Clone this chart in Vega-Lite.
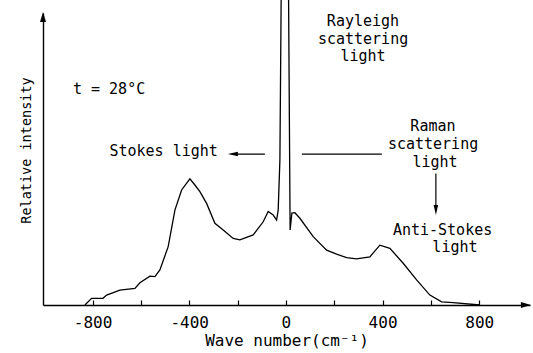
{
  "$schema": "https://vega.github.io/schema/vega-lite/v6.json",
  "width": 487,
  "height": 292,
  "autosize": {"type": "none"},
  "padding": {"left": 43, "top": 13, "right": 3, "bottom": 48},
  "background": "white",
  "config": {"view": {"stroke": null}, "font": "DejaVu Sans Mono"},
  "datasets": {
    "curve": [
      {"x": -831.6, "y": 0},
      {"x": -803.9, "y": 2.3},
      {"x": -757, "y": 2.3},
      {"x": -741.8, "y": 3.4},
      {"x": -686.8, "y": 5.1},
      {"x": -624.7, "y": 5.7},
      {"x": -604, "y": 7.6},
      {"x": -562.7, "y": 9.9},
      {"x": -542, "y": 9.7},
      {"x": -521.3, "y": 12.0},
      {"x": -487, "y": 20.0},
      {"x": -459.2, "y": 32.5},
      {"x": -431.5, "y": 39.4},
      {"x": -397.2, "y": 43.2},
      {"x": -376.5, "y": 41.1},
      {"x": -355.8, "y": 38.8},
      {"x": -328.1, "y": 34.8},
      {"x": -293.8, "y": 28.0},
      {"x": -259.4, "y": 25.7},
      {"x": -218, "y": 22.8},
      {"x": -190.3, "y": 22.3},
      {"x": -135.3, "y": 24.0},
      {"x": -93.9, "y": 28.5},
      {"x": -73.2, "y": 32.0},
      {"x": -52.5, "y": 30.8},
      {"x": -38.5, "y": 29.1},
      {"x": -31.9, "y": 32.5},
      {"x": -24.8, "y": 49.7},
      {"x": -19.5, "y": 106},
      {"x": 11, "y": 106},
      {"x": 17.5, "y": 25.7},
      {"x": 24.8, "y": 31.5},
      {"x": 37.2, "y": 31.6},
      {"x": 57.9, "y": 29.7},
      {"x": 113, "y": 23.4},
      {"x": 168.4, "y": 18.8},
      {"x": 209.8, "y": 17.4},
      {"x": 251.1, "y": 16.2},
      {"x": 292.5, "y": 15.8},
      {"x": 347.5, "y": 16.5},
      {"x": 388.9, "y": 20.5},
      {"x": 430.3, "y": 19.4},
      {"x": 485.3, "y": 14.3},
      {"x": 540.8, "y": 8.6},
      {"x": 595.8, "y": 3.4},
      {"x": 644.2, "y": 1.1},
      {"x": 692.2, "y": 0.8},
      {"x": 802.6, "y": 0}
    ],
    "labels": [
      {"x": -881, "y": 72.3, "label": "t = 28°C"},
      {"x": -730, "y": 51.0, "label": "Stokes light"},
      {"x": 169.5, "y": 95.5, "label": "Rayleigh"},
      {"x": 132.4, "y": 89.4, "label": "scattering"},
      {"x": 225.5, "y": 83.4, "label": "light"},
      {"x": 515, "y": 59.6, "label": "Raman"},
      {"x": 422, "y": 53.4, "label": "scattering"},
      {"x": 523.4, "y": 47.4, "label": "light"},
      {"x": 442.7, "y": 24.0, "label": "Anti-Stokes"},
      {"x": 606, "y": 18.0, "label": "light"}
    ],
    "lines": [
      {"x": -87, "x2": -225, "y": 51.7, "y2": 51.7},
      {"x": 66, "x2": 397, "y": 51.7, "y2": 51.7},
      {"x": 620.6, "x2": 620.6, "y": 45.0, "y2": 33}
    ],
    "arrows": [
      {"kind": "left", "x": -219.3, "y": 51.7},
      {"kind": "down", "x": 620.6, "y": 32.5},
      {"kind": "xaxis", "x": 993, "y": 0},
      {"kind": "yaxis", "x": -1005, "y": 98.6}
    ]
  },
  "layer": [
    {
      "data": {"name": "curve"},
      "mark": {"type": "line", "color": "black", "strokeWidth": 1.3, "clip": false},
      "encoding": {
        "x": {
          "field": "x", "type": "quantitative",
          "scale": {"domain": [-1005, 1010], "nice": false, "zero": false},
          "axis": {
            "values": [-800, -600, -400, -200, 0, 200, 400, 600, 800],
            "labelExpr": "datum.value % 400 === 0 ? '' + datum.value : ''",
            "tickSize": -5,
            "tickColor": "black",
            "tickWidth": 1.2,
            "domainColor": "black",
            "domainWidth": 1.4,
            "grid": false,
            "labelFont": "DejaVu Sans Mono",
            "labelFontSize": 16,
            "labelColor": "black",
            "labelPadding": 14,
            "title": "Wave number(cm⁻¹)",
            "titleFont": "DejaVu Sans Mono",
            "titleFontSize": 16,
            "titleFontWeight": "normal",
            "titleColor": "black",
            "titlePadding": 2
          }
        },
        "y": {
          "field": "y", "type": "quantitative",
          "scale": {"domain": [0, 100], "nice": false, "zero": false},
          "axis": {
            "title": "Relative intensity",
            "ticks": false,
            "labels": false,
            "grid": false,
            "domainColor": "black",
            "domainWidth": 1.4,
            "titleFont": "DejaVu Sans Mono",
            "titleFontSize": 13.5,
            "titleFontWeight": "normal",
            "titleColor": "black",
            "titlePadding": 10,
            "titleY": 137
          }
        }
      }
    },
    {
      "data": {"name": "lines"},
      "mark": {"type": "rule", "color": "black", "strokeWidth": 1.2},
      "encoding": {
        "x": {"field": "x", "type": "quantitative"},
        "x2": {"field": "x2"},
        "y": {"field": "y", "type": "quantitative"},
        "y2": {"field": "y2"}
      }
    },
    {
      "data": {"name": "arrows"},
      "transform": [{"filter": "datum.kind === 'left'"}],
      "mark": {"type": "point", "filled": true, "color": "black", "opacity": 1, "size": 100, "shape": "M-1,0L1,-0.45L1,0.45Z"},
      "encoding": {
        "x": {"field": "x", "type": "quantitative"},
        "y": {"field": "y", "type": "quantitative"}
      }
    },
    {
      "data": {"name": "arrows"},
      "transform": [{"filter": "datum.kind === 'down'"}],
      "mark": {"type": "point", "filled": true, "color": "black", "opacity": 1, "size": 100, "shape": "M0,1L-0.45,-1L0.45,-1Z"},
      "encoding": {
        "x": {"field": "x", "type": "quantitative"},
        "y": {"field": "y", "type": "quantitative"}
      }
    },
    {
      "data": {"name": "arrows"},
      "transform": [{"filter": "datum.kind === 'xaxis'"}],
      "mark": {"type": "point", "filled": true, "color": "black", "opacity": 1, "size": 100, "shape": "M1,0L-1,-0.6L-1,0.6Z", "clip": false},
      "encoding": {
        "x": {"field": "x", "type": "quantitative"},
        "y": {"field": "y", "type": "quantitative"}
      }
    },
    {
      "data": {"name": "arrows"},
      "transform": [{"filter": "datum.kind === 'yaxis'"}],
      "mark": {"type": "point", "filled": true, "color": "black", "opacity": 1, "size": 100, "shape": "M0,-1L-0.6,1L0.6,1Z", "clip": false},
      "encoding": {
        "x": {"field": "x", "type": "quantitative"},
        "y": {"field": "y", "type": "quantitative"}
      }
    },
    {
      "data": {"name": "labels"},
      "mark": {"type": "text", "align": "left", "baseline": "alphabetic", "font": "DejaVu Sans Mono", "fontSize": 15, "color": "black"},
      "encoding": {
        "x": {"field": "x", "type": "quantitative"},
        "y": {"field": "y", "type": "quantitative"},
        "text": {"field": "label"}
      }
    }
  ]
}
